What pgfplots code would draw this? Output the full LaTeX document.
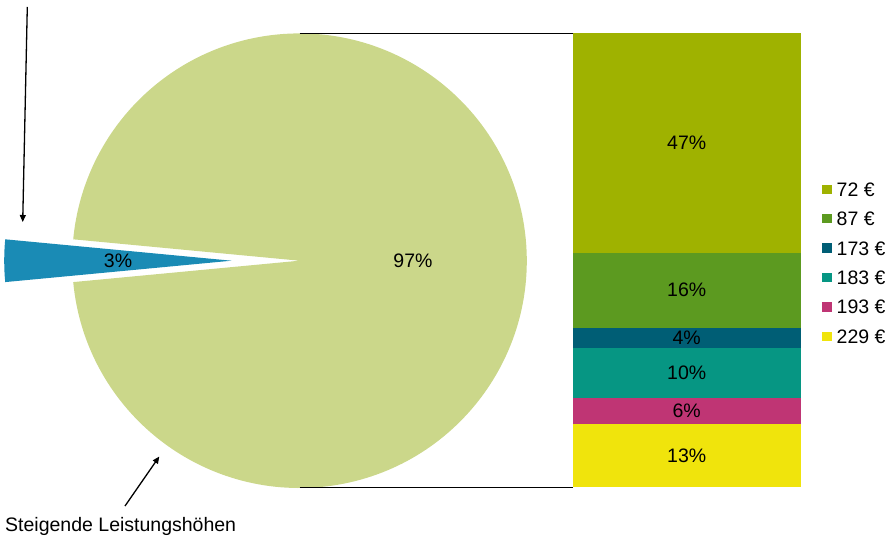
\documentclass[border=0pt]{standalone}
\usepackage{pgfplots}
\pgfplotsset{compat=1.18}
\usepackage{fontspec}
\setmainfont{Liberation Sans}
\usetikzlibrary{arrows.meta}
\definecolor{cA}{HTML}{9FB200}
\definecolor{cB}{HTML}{5C9A20}
\definecolor{cC}{HTML}{005E75}
\definecolor{cD}{HTML}{069683}
\definecolor{cE}{HTML}{BF3574}
\definecolor{cF}{HTML}{F0E40C}
\definecolor{pieG}{HTML}{CBD78A}
\definecolor{pieB}{HTML}{1A8BB5}
\newcommand{\lbl}{\fontsize{19.5}{23}\selectfont}
\pgfplotsset{baraxis/.style={at={(572.7pt,48.7pt)}, anchor=south west, width=228pt, height=454.6pt,
  scale only axis, xmin=-0.5, xmax=0.5, ymin=0, ymax=100, hide axis, clip=false}}
\begin{document}
\begin{tikzpicture}
\path[use as bounding box] (0,0) rectangle (891pt,536pt);
% ---------- pie (coordinates in pixels, y upwards) ----------
\begin{axis}[at={(0pt,0pt)}, anchor=south west, x=1pt, y=1pt,
  xmin=0, xmax=891, ymin=0, ymax=536, hide axis, clip=false]
\def\pieMain{97}\def\pieSmall{3}
\pgfmathsetmacro{\half}{\pieSmall*3.6/2}
\pgfmathsetmacro{\R}{227.3}
% main slice
\fill[pieG] (axis cs:299.5,275.3) -- ++(-180+\half:\R pt)
   arc[start angle=-180+\half, end angle=180-\half, radius=\R pt] -- cycle;
% exploded small slice
\fill[pieB] (axis cs:231.5,275.3) -- ++(180-\half:\R pt)
   arc[start angle=180-\half, end angle=180+\half, radius=\R pt] -- cycle;
\node[font=\lbl, inner sep=0pt] at (axis cs:413,275) {\pieMain\%};
\node[font=\lbl, inner sep=0pt] at (axis cs:118,275) {\pieSmall\%};
% connector lines
\draw[black, line width=0.9pt] (axis cs:299.5,503) -- (axis cs:573,503);
\draw[black, line width=0.9pt] (axis cs:299.5,48.3) -- (axis cs:573,48.3);
% arrows
\draw[line width=1.3pt, -{Triangle[length=7pt,width=6pt]}] (axis cs:27.3,529) -- (axis cs:22.7,314);
\draw[line width=1.3pt, -{Triangle[length=7pt,width=6pt]}] (axis cs:125,30) -- (axis cs:159.3,79.5);
\node[font=\lbl, inner sep=0pt, anchor=base west] at (axis cs:5,4.3) {Steigende Leistungshöhen};
\end{axis}
% ---------- stacked bar ----------
\begin{axis}[baraxis, ybar stacked, bar width=228pt,
  legend image code/.code={\fill[#1] (0pt,-4.65pt) rectangle (10pt,4.65pt);},
  reverse legend,
  legend style={at={(axis description cs:1.0921,0.6709)}, anchor=north west,
    draw=none, fill=none, inner sep=0pt, outer sep=0pt, font=\lbl,
    row sep=15.44pt, cells={anchor=west},
    nodes={inner sep=0pt, text height=13.96pt, text depth=0pt},
    /tikz/every odd column/.append style={column sep=5pt}},
  ]
\addplot[fill=cF, draw=none] coordinates {(0,14.0)};
\addplot[fill=cE, draw=none] coordinates {(0,5.7)};
\addplot[fill=cD, draw=none] coordinates {(0,11.0)};
\addplot[fill=cC, draw=none] coordinates {(0,4.4)};
\addplot[fill=cB, draw=none] coordinates {(0,16.5)};
\addplot[fill=cA, draw=none] coordinates {(0,48.4)};
\legend{229 €,193 €,183 €,173 €,87 €,72 €}
\end{axis}
% ---------- bar labels (same geometry, drawn on top) ----------
\begin{axis}[baraxis]
\node[font=\lbl, inner sep=0pt] at (axis cs:0,7.0) {13\%};
\node[font=\lbl, inner sep=0pt] at (axis cs:0,16.85) {6\%};
\node[font=\lbl, inner sep=0pt] at (axis cs:0,25.2) {10\%};
\node[font=\lbl, inner sep=0pt] at (axis cs:0,32.9) {4\%};
\node[font=\lbl, inner sep=0pt] at (axis cs:0,43.35) {16\%};
\node[font=\lbl, inner sep=0pt] at (axis cs:0,75.8) {47\%};
\end{axis}
\end{tikzpicture}
\end{document}
